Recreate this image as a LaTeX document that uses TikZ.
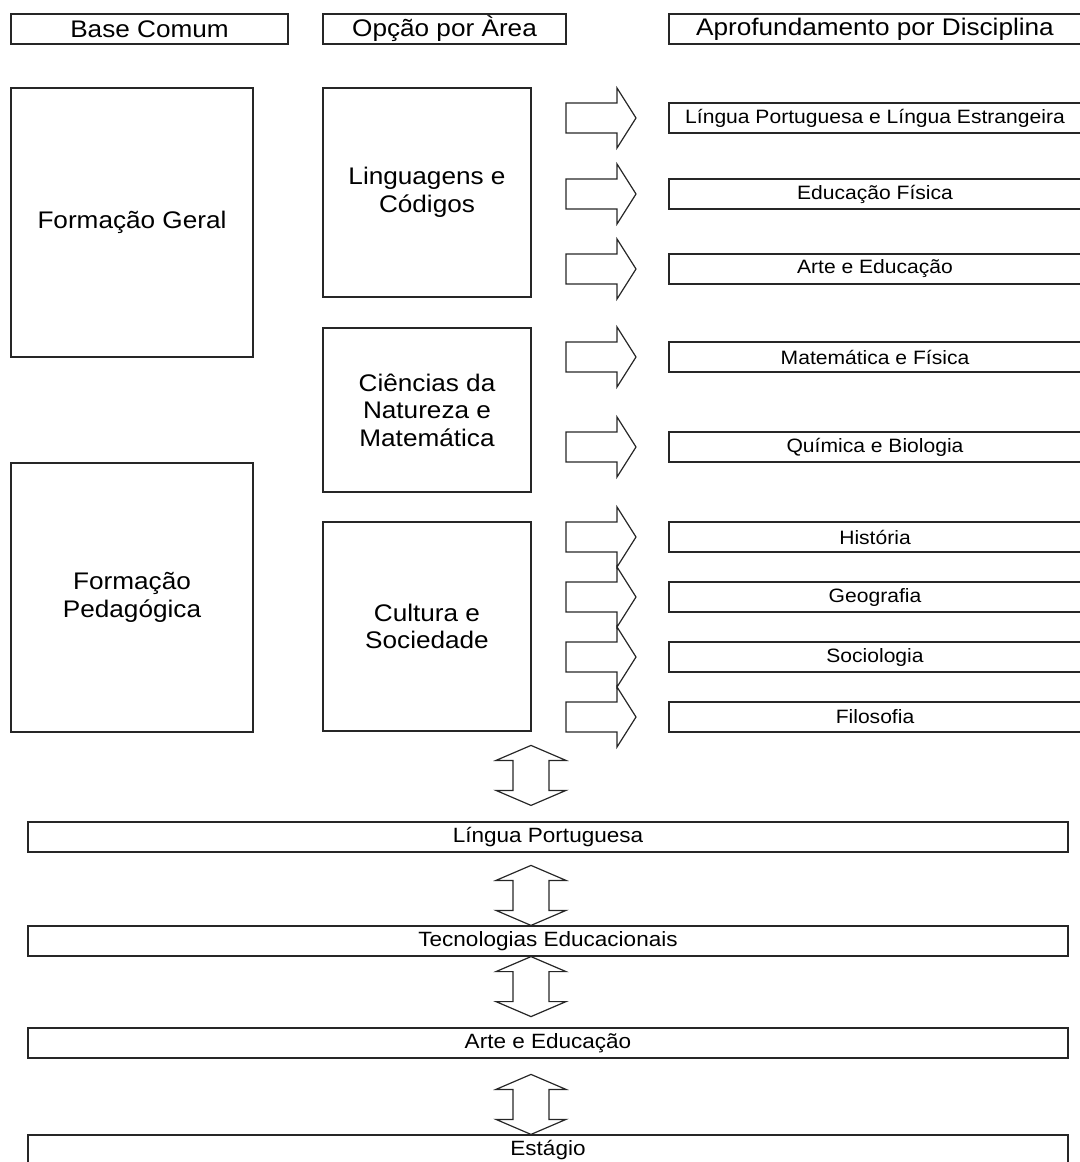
\documentclass[tikz,border=0pt]{standalone}
\usepackage{fontspec}
\setmainfont{Liberation Sans}[FakeStretch=1.09]
\usetikzlibrary{calc}

\begin{document}
\begin{tikzpicture}[x=0.75pt,y=-0.75pt,
  box/.style={draw=black!85, line width=0.9pt, inner sep=0pt, align=center},
  sz/.style 2 args={minimum width=#1*0.75pt, minimum height=#2*0.75pt},
  bigtxt/.style={font=\fontsize{18}{20.7}\selectfont},
  smalltxt/.style={font=\fontsize{14.5}{16.7}\selectfont},
  stagetxt/.style={font=\fontsize{15.5}{17.8}\selectfont},
  disc/.style={box, smalltxt, sz={412}{30}},
  stage/.style={box, stagetxt, sz={1040}{30}},
  blockarrow/.style={draw=black!85, line width=0.9pt, line join=miter},
  rarrow/.pic={\draw[blockarrow] (0,-15) -- (51,-15) -- (51,-30) -- (70,0)
      -- (51,30) -- (51,15) -- (0,15) -- cycle;},
  udarrow/.pic={\draw[blockarrow] (0,-30) -- (35,-15) -- (18,-15) -- (18,15)
      -- (35,15) -- (0,30) -- (-35,15) -- (-18,15) -- (-18,-15) -- (-35,-15) -- cycle;},
]
\useasboundingbox (0,0) rectangle (1080,1162);
\clip (0,0) rectangle (1080,1162);

% column headers
\node[box, bigtxt, sz={277}{30}] (hBase) at (149.5,29) {Base Comum};
\node[box, bigtxt, sz={243}{30}] (hArea) at (444.5,29) {Opção por Àrea};
\node[box, bigtxt, sz={412}{30}] (hDisc) at (875,29)   {Aprofundamento por Disciplina};

% common base
\node[box, bigtxt, sz={242}{269}] (geral) at (132,222.5) {Formação Geral};
\node[box, bigtxt, sz={242}{269}] (pedag) at (132,597.5) {Formação\\Pedagógica};

% areas
\node[box, bigtxt, sz={208}{209}] (ling) at (427,192.5) {Linguagens e\\Códigos};
\node[box, bigtxt, sz={208}{164}] (cien) at (427,410)   {Ciências da\\Natureza e\\Matemática};
\node[box, bigtxt, sz={208}{209}] (cult) at (427,626.5) {Cultura e\\Sociedade};

% disciplines
\node[disc] (d1) at (875,118) {Língua Portuguesa e Língua Estrangeira};
\node[disc] (d2) at (875,194) {Educação Física};
\node[disc] (d3) at (875,269) {Arte e Educação};
\node[disc] (d4) at (875,357) {Matemática e Física};
\node[disc] (d5) at (875,447) {Química e Biologia};
\node[disc] (d6) at (875,537) {História};
\node[disc] (d7) at (875,597) {Geografia};
\node[disc] (d8) at (875,657) {Sociologia};
\node[disc] (d9) at (875,717) {Filosofia};

% pedagogical sequence
\node[stage] (b1) at (548,837)  {Língua Portuguesa};
\node[stage] (b2) at (548,941)  {Tecnologias Educacionais};
\node[stage] (b3) at (548,1043) {Arte e Educação};
\node[stage] (b4) at (548,1150) {Estágio};

% block arrows towards the disciplines
\coordinate (ra) at (566,0);
\foreach \d in {d1,d2,d3,d4,d5,d6,d7,d8,d9}
  \pic at (ra |- \d.west) {rarrow};

% two-way arrows between the stages
\coordinate (ua) at (531,0);
\pic at ($(ua |- b1.north)+(0,-46)$) {udarrow};
\pic at ($(ua |- b2.north)+(0,-30)$) {udarrow};
\pic at ($(ua |- b2.south)+(0,30)$)  {udarrow};
\pic at ($(ua |- b4.north)+(0,-30)$) {udarrow};
\end{tikzpicture}
\end{document}
